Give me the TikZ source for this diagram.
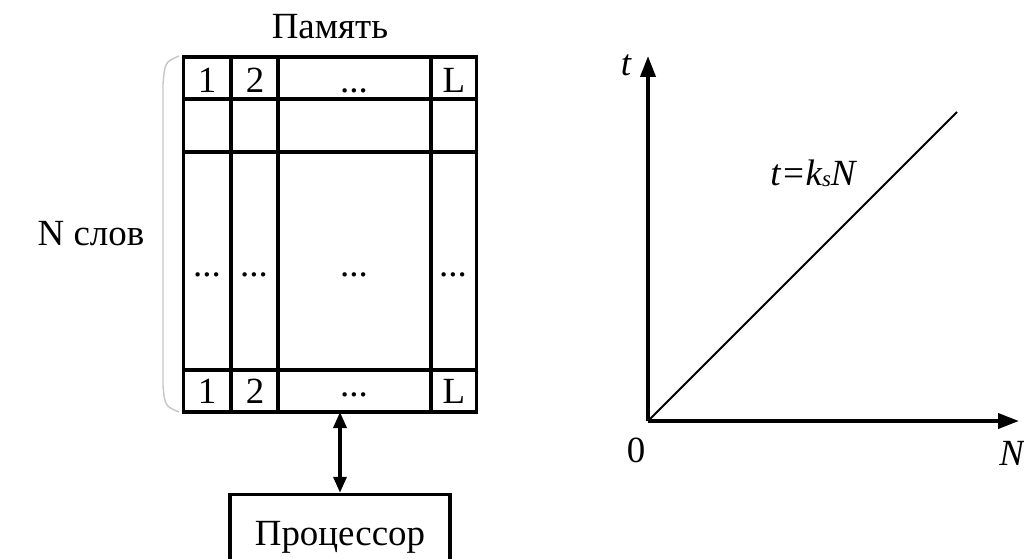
\documentclass[tikz,border=0pt]{standalone}
\usepackage{fontspec}
\setmainfont{Liberation Serif}
\usetikzlibrary{arrows.meta}
\begin{document}
\begin{tikzpicture}[x=0.02cm,y=-0.02cm,
  grid/.style={line width=2pt},
  txt/.style={font=\fontsize{21}{24}\selectfont, inner sep=0pt, anchor=base},
  axis/.style={line width=2.2pt,-{Triangle[length=0.42cm,width=0.3cm]}},
  box/.style={draw,line width=2pt,minimum width=4.4cm,minimum height=1.7cm,inner sep=0pt}]
\useasboundingbox (0,0) rectangle (1024,558);
% brace
\draw[gray!45,line width=0.8pt] (179,56) .. controls (165,62) .. (163,84) -- (163,386) .. controls (165,406) .. (179,412);
% table
\node[draw,line width=2pt,minimum width=5.86cm,minimum height=7.1cm,inner sep=0pt] (mem) at (330,234.5) {};
\draw[grid] (mem.west |- 0,99) -- (mem.east |- 0,99);
\draw[grid] (mem.west |- 0,152) -- (mem.east |- 0,152);
\draw[grid] (mem.west |- 0,370) -- (mem.east |- 0,370);
\draw[grid] (231,0 |- mem.north) -- (231,0 |- mem.south);
\draw[grid] (278,0 |- mem.north) -- (278,0 |- mem.south);
\draw[grid] (431,0 |- mem.north) -- (431,0 |- mem.south);
\node[txt] (title) at (330,38) {Память};
\node[txt] (nw) at (91,245) {N слов};
\node[txt] (a1) at (207,92) {1};
\node[txt] (a2) at (255,92) {2};
\node[txt] (a3) at (354,92) {...};
\node[txt] (a4) at (454,92) {L};
\node[txt] (b1) at (207,276) {...};
\node[txt] (b2) at (254,276) {...};
\node[txt] (b3) at (354,276) {...};
\node[txt] (b4) at (453,276) {...};
\node[txt] (c1) at (207,403) {1};
\node[txt] (c2) at (255,403) {2};
\node[txt] (c3) at (354,396) {...};
\node[txt] (c4) at (454,403) {L};
% processor
\node[box] (proc) at (340,537) {};
\node[txt] (pt) at (340,545) {Процессор};
\coordinate (mb) at (340,412);
\draw[line width=2pt,{Triangle[length=0.32cm,width=0.26cm]}-{Triangle[length=0.32cm,width=0.26cm]}] (mb) -- (proc.north);
% graph
\coordinate (o) at (648,421);
\coordinate (ty) at (648,56);
\coordinate (tx) at (1019,421);
\coordinate (le) at (957,112);
\draw[axis] (o) -- (ty);
\draw[axis] (o) -- (tx);
\draw[line width=1.1pt] (o) -- (le);
\node[txt] (tl) at (626,75) {\itshape t};
\node[txt] (zl) at (636,462) {0};
\node[txt,anchor=base west] (nl) at (999,465) {\itshape N};
\node[txt] (eq) at (813,185) {\itshape t=k\raisebox{-0.1ex}{\fontsize{13}{14}\selectfont s}N};
\end{tikzpicture}
\end{document}
